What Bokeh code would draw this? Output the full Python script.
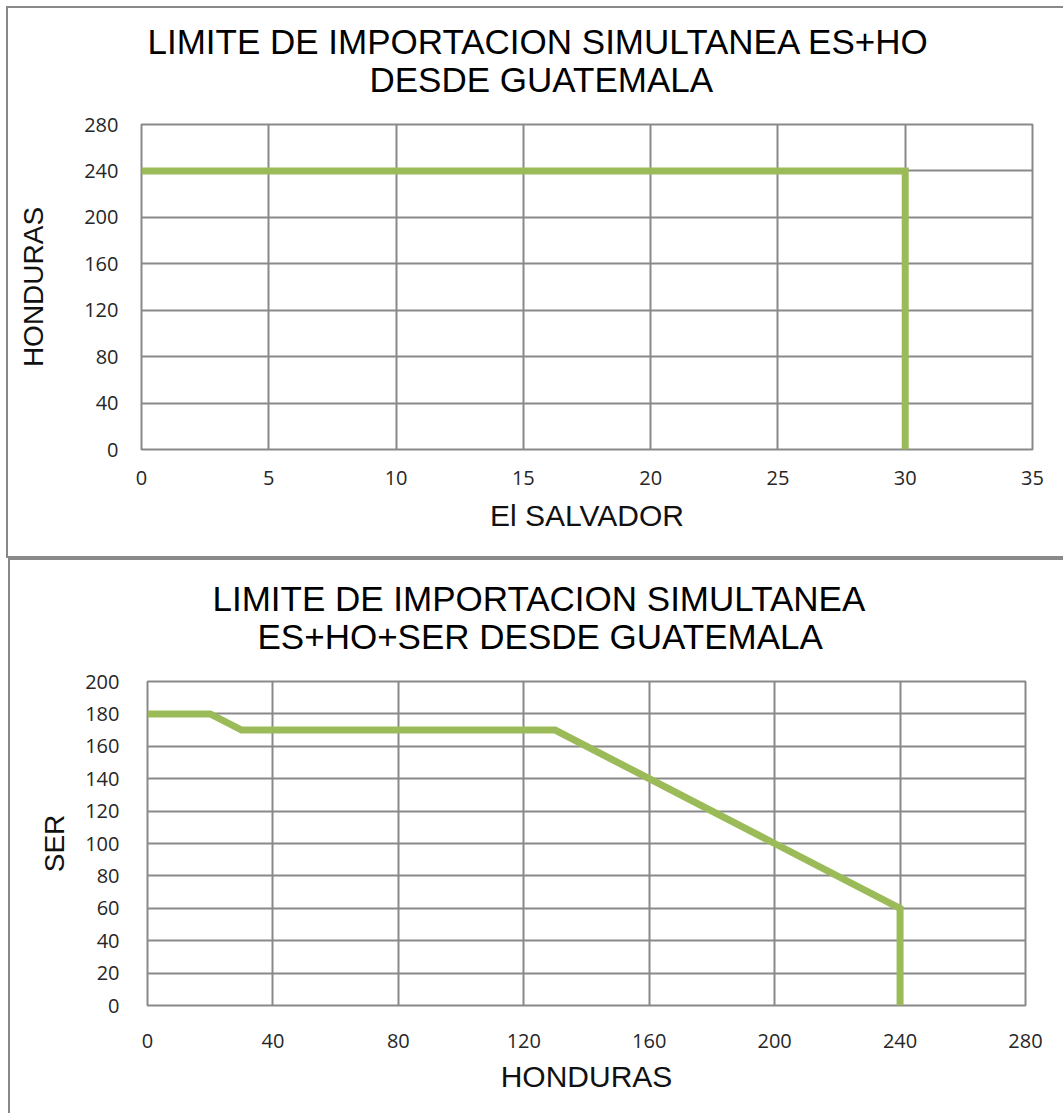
from bokeh.plotting import figure
from bokeh.models import Range1d, FixedTicker, Title
from bokeh.embed import file_html
from bokeh.resources import INLINE

# ---- data ----
title1 = ["LIMITE DE IMPORTACION SIMULTANEA ES+HO", "DESDE GUATEMALA"]
es_x = [0, 30, 30]
ho_y = [240, 240, 0]
x1_ticks = [0, 5, 10, 15, 20, 25, 30, 35]
y1_ticks = [0, 40, 80, 120, 160, 200, 240, 280]

title2 = ["LIMITE DE IMPORTACION SIMULTANEA", "ES+HO+SER DESDE GUATEMALA"]
ho_x = [0, 20, 30, 130, 160, 200, 240, 240]
ser_y = [180, 180, 170, 170, 140, 100, 60, 0]
x2_ticks = [0, 40, 80, 120, 160, 200, 240, 280]
y2_ticks = [0, 20, 40, 60, 80, 100, 120, 140, 160, 180, 200]

GREEN = "#9BBB59"
GRID = "#898989"
TICK_FONT = "Open Sans"
LABEL_FONT = "Liberation Sans"
TITLE_FONT = "Liberation Sans"


def make(xs, ys, xt, yt, xlab, ylab, titles, W, H, ml, mr, mt, mb,
         ystand, xstand, xlabstand, ylabstand, offsets, styles):
    p = figure(width=W, height=H, output_backend="svg", toolbar_location=None,
               x_range=Range1d(xt[0], xt[-1]), y_range=Range1d(yt[0], yt[-1]),
               min_border_left=ml, min_border_right=mr, min_border_top=mt,
               min_border_bottom=mb)
    p.styles = styles
    p.line(xs, ys, line_color=GREEN, line_width=7, line_join="miter")
    p.xaxis.ticker = FixedTicker(ticks=xt)
    p.yaxis.ticker = FixedTicker(ticks=yt)
    for ax in (p.xaxis[0], p.yaxis[0]):
        ax.axis_line_color = None
        ax.major_tick_line_color = None
        ax.minor_tick_line_color = None
        ax.major_label_text_font = TICK_FONT
        ax.major_label_text_font_size = "20px"
        ax.major_label_text_color = "#262626"
        ax.axis_label_text_font = LABEL_FONT
        ax.axis_label_text_font_style = "normal"
        ax.axis_label_text_color = "#111111"
    p.xaxis.axis_label_text_font_size = "30px"
    p.yaxis.axis_label_text_font_size = "28px"
    p.xaxis.axis_label = xlab
    p.yaxis.axis_label = ylab
    p.yaxis.major_label_standoff = ystand
    p.xaxis.major_label_standoff = xstand
    p.xaxis.axis_label_standoff = xlabstand
    p.yaxis.axis_label_standoff = ylabstand
    p.xgrid.grid_line_color = GRID
    p.ygrid.grid_line_color = GRID
    p.xgrid.grid_line_width = 2
    p.ygrid.grid_line_width = 2
    p.outline_line_color = GRID
    p.outline_line_width = 2
    p.outline_line_alpha = 1
    # spacer nearest the frame, then second line, then first line on top
    p.add_layout(Title(text=" ", text_font_size="1px", standoff=26), "above")
    p.add_layout(Title(text=titles[1], align="left", offset=offsets[1],
                       standoff=-6, text_font=TITLE_FONT,
                       text_font_size="35px", text_font_style="normal",
                       text_color="#000000"), "above")
    p.add_layout(Title(text=titles[0], align="left", offset=offsets[0],
                       standoff=0, text_font=TITLE_FONT,
                       text_font_size="35px", text_font_style="normal",
                       text_color="#000000"), "above")
    return p


p1 = make(es_x, ho_y, x1_ticks, y1_ticks, "El SALVADOR", "HONDURAS", title1,
          1057, 552, 133, 33, 116, 111, 17, 15, 11, 32,
          [6, 228],
          {"border": "2px solid #898989", "border-right": "none",
           "box-sizing": "border-box", "margin": "6px 0px 0px 6px"})
p2 = make(ho_x, ser_y, x2_ticks, y2_ticks, "HONDURAS", "SER", title2,
          1055, 555, 137, 40, 121, 110, 22, 22, 9, 12,
          [65, 110],
          {"border": "2px solid #898989", "border-right": "none",
           "border-bottom": "none", "box-sizing": "border-box",
           "margin": "0px 0px 0px 8px"})

open("out.html", "w").write(file_html([p1, p2], INLINE))
